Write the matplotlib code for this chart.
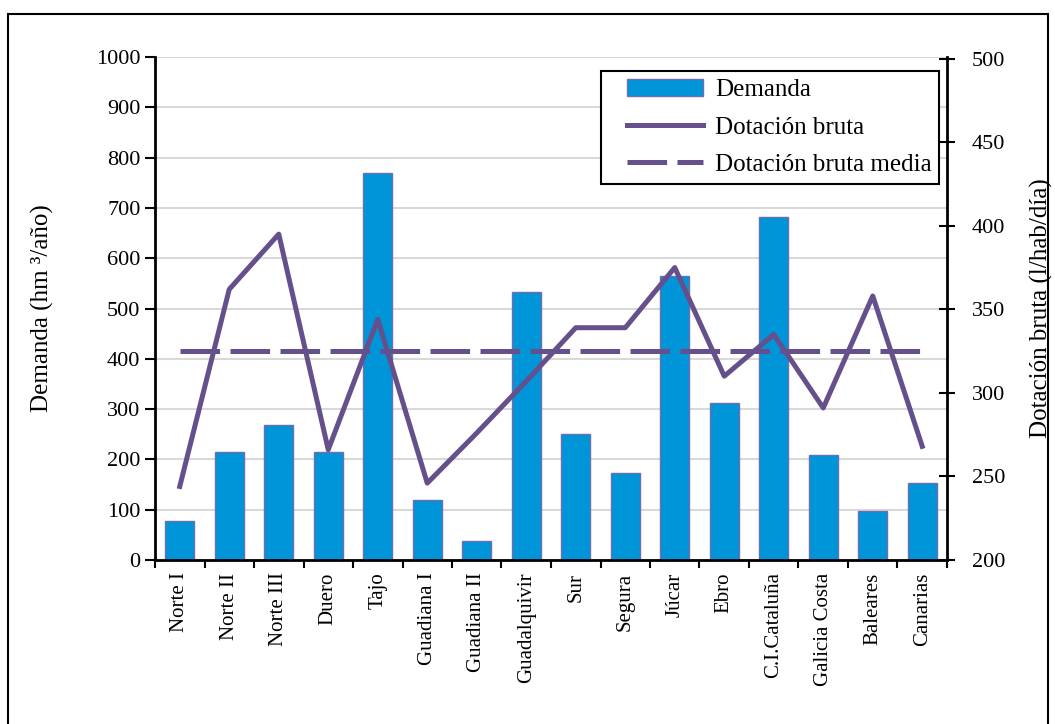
import matplotlib.pyplot as plt
import numpy as np
from matplotlib.patches import Rectangle
from matplotlib.legend_handler import HandlerLine2D, HandlerPatch

plt.rcParams['font.family'] = ['Liberation Serif', 'DejaVu Serif']
plt.rcParams['lines.scale_dashes'] = False

# data
cuencas = ['Norte I', 'Norte II', 'Norte III', 'Duero', 'Tajo', 'Guadiana I',
           'Guadiana II', 'Guadalquivir', 'Sur', 'Segura', 'Júcar', 'Ebro',
           'C.I.Cataluña', 'Galicia Costa', 'Baleares', 'Canarias']
demanda = [78, 215, 268, 215, 770, 120, 38, 533, 250, 172, 565, 312, 682, 208, 97, 153]
dotacion = [244, 362, 395, 266, 344, 246, 276, 307, 339, 339, 375, 310, 335, 291, 358, 268]
dotacion_media = 325

bar_col = '#0094D8'
line_col = '#66508C'

fig = plt.figure(figsize=(10.55, 7.24), dpi=100)
ax = fig.add_axes([155/1055, 1 - 560/724, (947-155)/1055, (560-57)/724])
x = np.arange(len(cuencas))

bars = ax.bar(x, demanda, width=0.58, color=bar_col, edgecolor='#6f6fb0',
              linewidth=1, zorder=2)
ax.set_ylim(0, 1000)
ax.set_xlim(-0.5, len(cuencas) - 0.5)
ax.set_yticks(range(0, 1001, 100))
ax.yaxis.grid(True, color='#d9d9d9', linewidth=1.5, zorder=0)
ax.set_axisbelow(True)
ax.set_ylabel('Demanda (hm ³/año)', fontsize=18, labelpad=30)

ax.set_xticks(x)
ax.set_xticklabels(cuencas, rotation=90, fontsize=15)
ax.set_xticks(np.arange(-0.5, len(cuencas)), minor=True)
ax.tick_params(axis='x', which='major', length=0, pad=9)
ax.tick_params(axis='x', which='minor', length=6, width=1.5, direction='out')
ax.tick_params(axis='y', labelsize=16, length=7, width=1.5, direction='out')
ax.spines['top'].set_visible(False)
ax.spines['right'].set_visible(False)
ax.spines['left'].set_linewidth(2)
ax.spines['bottom'].set_linewidth(2)

ax2 = ax.twinx()
l_dot, = ax2.plot(x, dotacion, color=line_col, linewidth=3.6, zorder=3)
l_med, = ax2.plot([x[0], x[-1]], [dotacion_media, dotacion_media], color=line_col,
                  linewidth=3.6, linestyle=(0, (28.5, 7.5)), zorder=3)
ax2.set_ylim(200, 501)
ax2.set_yticks(range(200, 501, 50))
ax2.tick_params(axis='y', labelsize=16, length=12, width=1.5, direction='inout',
                pad=12)
ax2.set_ylabel('Dotación bruta (l/hab/día)', fontsize=18, labelpad=18)
for s in ['top', 'left', 'bottom']:
    ax2.spines[s].set_visible(False)
ax2.spines['right'].set_linewidth(2)

bar_handle = bars.patches[0]
hmap = {bar_handle: HandlerPatch(xpad=0.75), l_dot: HandlerLine2D(xpad=0.75),
        l_med: HandlerLine2D(xpad=0.75)}
leg = ax2.legend([bar_handle, l_dot, l_med],
                 ['Demanda', 'Dotación bruta', 'Dotación bruta media'],
                 loc='upper left', fontsize=18,
                 bbox_to_anchor=(601/1055, 1 - 71/724), bbox_transform=fig.transFigure,
                 fancybox=False, framealpha=1, edgecolor='black', borderaxespad=0,
                 handlelength=3.78, handletextpad=0.48, borderpad=0.3,
                 labelspacing=0.6, handler_map=hmap)
leg.get_frame().set_linewidth(1.5)

fig.patches.append(Rectangle((8/1055, -0.01), 1040/1055, 1 - 14/724 + 0.01,
                             transform=fig.transFigure, fill=False,
                             edgecolor='black', linewidth=1.5))

fig.savefig('out.png', dpi=100)
